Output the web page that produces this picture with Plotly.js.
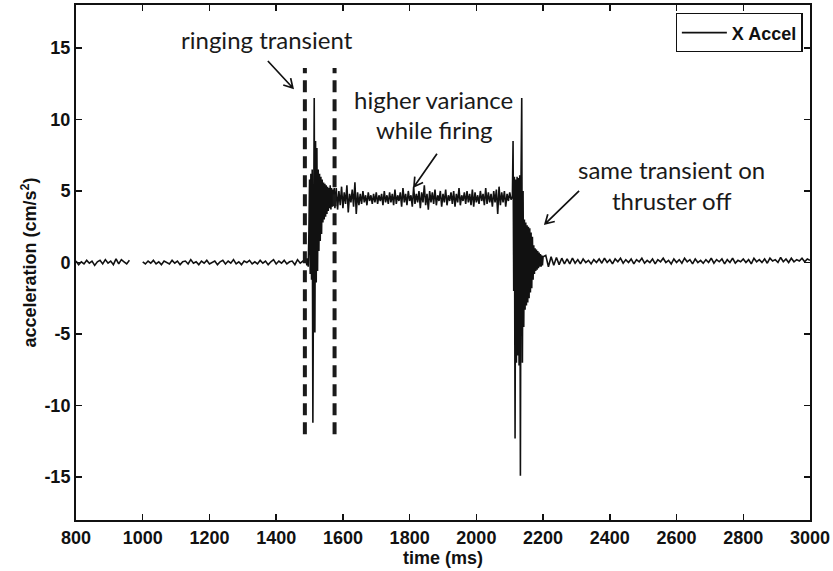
<!DOCTYPE html>
<html>
<head>
<meta charset="utf-8">
<script src="https://cdn.plot.ly/plotly-3.0.1.min.js"></script>
<style>html,body{margin:0;padding:0;background:#fff;}#chart{width:833px;height:571px;}</style>
</head>
<body>
<div id="chart"></div>
<script>
const seg1Start = 800, seg1Step = 8;
const seg1Vals = [0.1,-0.15,0.05,-0.1,0.15,-0.05,0.1,-0.2,0.05,0.15,-0.1,0.2,-0.05,0.1,-0.15,0.25,-0.1,0.2,0.05,-0.1,0.15];

const seg2Start = 1000, seg2Step = 8;
const seg2Vals = [0.05,-0.1,0.1,-0.05,0.15,-0.1,0.05,-0.15,0.1,0.0,-0.1,0.15,-0.05,0.1,-0.15,0.05,0.1,-0.1,0.2,-0.05,
  0.05,-0.15,0.1,-0.05,0.15,-0.1,0.0,0.1,-0.15,0.05,0.15,-0.1,0.1,-0.05,0.2,-0.1,0.05,-0.15,0.1,0.0,
  0.15,-0.1,0.05,-0.1,0.15,-0.05,0.1,-0.15,0.05,0.2,-0.1,0.1,-0.05,0.15,-0.1,0.05,0.1,-0.15,0.2,-0.05,0.1,0.3];

const ringStart = 1490, ringStep = 2;
const ringVals = [0.1,-0.2,0.3,-0.3,2.0,5.8,-0.8,6.2,-1.2,6.5,-11.2,6.4,11.5,-4.9,8.5,-1.4,8.0,-0.6,6.5,0.8,
  6.2,1.5,6.0,2.0,5.8,2.8,5.6,3.0,5.5,3.2,5.4,3.4,5.3,3.6,5.2,3.8,5.4,3.7,5.2,3.9,5.1,4.0,5.2,3.8,5.0];

const fireStart = 1580, fireStep = 4;
const fireVals = [5.2,3.7,5.0,4.0,5.3,3.8,4.9,4.1,5.4,3.5,4.8,4.2,5.1,3.9,5.6,3.4,4.9,4.0,4.8,4.1,
  5.0,4.2,4.7,4.0,4.9,4.3,4.7,4.1,4.8,4.2,4.9,4.1,4.7,4.3,4.8,4.0,5.0,4.2,4.7,4.1,
  4.9,4.2,4.8,4.0,5.1,4.1,4.7,4.3,4.9,3.9,5.2,4.2,4.8,4.0,5.0,4.3,4.7,3.9,5.3,4.1,
  4.8,4.2,5.0,3.8,4.9,4.2,5.4,4.0,4.8,3.7,5.0,4.2,4.9,4.1,5.1,4.0,4.7,4.3,5.0,3.9,
  4.8,4.2,5.1,4.0,4.7,4.3,4.9,4.1,5.0,3.9,4.8,4.2,5.2,4.0,4.7,4.3,4.9,4.1,5.0,4.2,
  4.8,4.0,5.1,3.9,4.9,4.2,4.7,4.1,5.0,4.3,4.8,4.0,5.2,4.1,4.9,4.2,4.8,3.9,5.0,4.2,
  5.1,3.4,5.3,4.0,4.9,4.2,5.0,3.9,4.8,4.3,4.9,4.4];

const offStart = 2108, offStep = 2;
const offVals = [4.6,8.5,-2.0,6.0,-12.3,5.8,-7.0,6.0,-6.5,5.9,-7.2,6.1,-14.9,6.2,11.5,-7.0,5.0,-4.5,3.0,-3.3,
  2.8,-3.0,2.6,-2.8,2.5,-2.5,2.4,-2.1,2.1,-1.8,1.8,-1.2,1.2,-0.8,1.0,-0.6,0.9,-0.5,0.8,-0.4,
  0.7,-0.3,0.6,-0.3,0.5,-0.2,0.4];

const tailStart = 2208, tailStep = 8;
const tailVals = [0.5,-0.3,0.4,-0.2,0.35,-0.15,0.3,-0.1,0.25,-0.1,
  0.3,-0.05,0.2,-0.1,0.25,0.0,0.15,-0.1,0.2,0.0,
  0.25,-0.05,0.3,0.0,0.2,-0.1,0.25,0.05,0.3,-0.05,
  0.2,0.0,0.25,-0.1,0.2,0.05,0.3,-0.05,0.15,0.0,
  0.25,-0.1,0.2,0.05,0.3,0.0,0.15,-0.1,0.25,0.0,
  0.2,-0.05,0.3,0.05,0.2,-0.1,0.25,0.0,0.15,-0.05,
  0.2,0.0,0.3,-0.05,0.2,0.05,0.25,-0.1,0.2,0.0,
  0.3,-0.05,0.15,0.05,0.25,0.0,0.2,-0.1,0.3,0.05,
  0.2,0.0,0.25,-0.05,0.3,0.1,0.2,0.0,0.35,0.05,
  0.25,0.0,0.3,0.05,0.2,0.1,0.3,0.05,0.25,0.15];

// Dashed marker lines bounding the ringing transient
const markerTimes = [1486, 1575];
const markerLow = -12, markerHigh = 13.6;

// Annotation arrow heads (data coords) and label anchors
const arrowHeadT = [1450, 1813, 2206];
const arrowHeadV = [12.2, 5.3, 2.7];
const labelTexts = ['ringing transient', 'higher variance', 'while firing', 'same transient on', 'thruster off'];
const labelT = [1372, 1873, 1876, 2586, 2586];
const labelV = [15.6, 11.4, 9.3, 6.5, 4.3];

const xTicks = [800,1000,1200,1400,1600,1800,2000,2200,2400,2600,2800,3000];
const yTicks = [-15,-10,-5,0,5,10,15];

const xs = [], ys = [];
function addSeg(start, step, vals) {
  vals.forEach((v, i) => { xs.push(start + i * step); ys.push(v); });
}
addSeg(seg1Start, seg1Step, seg1Vals);
xs.push(null); ys.push(null);
addSeg(seg2Start, seg2Step, seg2Vals);
addSeg(ringStart, ringStep, ringVals);
addSeg(fireStart, fireStep, fireVals);
addSeg(offStart, offStep, offVals);
addSeg(tailStart, tailStep, tailVals);

const trace = {
  x: xs, y: ys, type: 'scatter', mode: 'lines', name: 'X Accel',
  line: {color: '#111', width: 1.6}, connectgaps: false
};

// arrow tails in pixels relative to the head (x right, y up)
const arrowTailPx = [[-25, 27], [23, 33], [34, 33]];
function arrowPath(tail) {
  const L = Math.hypot(tail[0], tail[1]);
  const dx = tail[0] / L, dy = tail[1] / L;
  const c = Math.cos(Math.PI / 6), s = Math.sin(Math.PI / 6), w = 10;
  const a = [(dx * c - dy * s) * w, (dx * s + dy * c) * w];
  const b = [(dx * c + dy * s) * w, (-dx * s + dy * c) * w];
  return `M${tail[0]},${tail[1]} L0,0 M${a[0].toFixed(1)},${a[1].toFixed(1)} L0,0 L${b[0].toFixed(1)},${b[1].toFixed(1)}`;
}

const markerShapes = markerTimes.map(t => ({
  type: 'line', xref: 'x', yref: 'y', x0: t, x1: t, y0: markerLow, y1: markerHigh,
  line: {color: '#1a1a1a', width: 4, dash: '12px,7px'}
}));
const arrowShapes = arrowHeadT.map((t, i) => ({
  type: 'path', xref: 'x', yref: 'y', xsizemode: 'pixel', ysizemode: 'pixel',
  xanchor: t, yanchor: arrowHeadV[i], path: arrowPath(arrowTailPx[i]),
  line: {color: '#111', width: 1.7}
}));

const axFont = 'Arial, "Liberation Sans", sans-serif';
const annFont = {family: 'Lato, "Open Sans", sans-serif', size: 24, color: '#1a1a1a'};

const layout = {
  width: 833, height: 571,
  margin: {l: 76, r: 23, t: 5, b: 51},
  paper_bgcolor: '#fff', plot_bgcolor: '#fff',
  showlegend: true,
  legend: {x: 0.99, y: 0.984, xanchor: 'right', yanchor: 'top', bgcolor: '#fff', bordercolor: '#111', borderwidth: 1.2,
    itemwidth: 45, font: {family: axFont, size: 18, color: '#111', weight: 'bold'}},
  xaxis: {
    range: [800, 3000], tickvals: xTicks, ticktext: xTicks.map(String),
    ticks: 'inside', ticklen: 6, tickwidth: 1.5, tickcolor: '#111',
    showline: true, linecolor: '#111', linewidth: 2, mirror: 'ticks',
    showgrid: false, zeroline: false,
    tickfont: {family: axFont, size: 18, color: '#111', weight: 'bold'},
    title: {text: 'time (ms)', standoff: 4, font: {family: axFont, size: 18, color: '#111', weight: 'bold'}}
  },
  yaxis: {
    range: [-18, 18], tickvals: yTicks, ticktext: yTicks.map(String),
    ticks: 'inside', ticklen: 6, tickwidth: 1.5, tickcolor: '#111',
    showline: true, linecolor: '#111', linewidth: 2, mirror: 'ticks',
    showgrid: false, zeroline: false,
    tickfont: {family: axFont, size: 18, color: '#111', weight: 'bold'},
    title: {text: 'acceleration (cm/s<sup>2</sup>)', standoff: 3, font: {family: axFont, size: 18, color: '#111', weight: 'bold'}}
  },
  shapes: markerShapes.concat(arrowShapes),
  annotations: labelTexts.map((txt, i) => ({
    x: labelT[i], y: labelV[i], xref: 'x', yref: 'y', text: txt, showarrow: false, font: annFont
  }))
};

Plotly.newPlot('chart', [trace], layout, {displayModeBar: false, staticPlot: true});
</script>
</body>
</html>
